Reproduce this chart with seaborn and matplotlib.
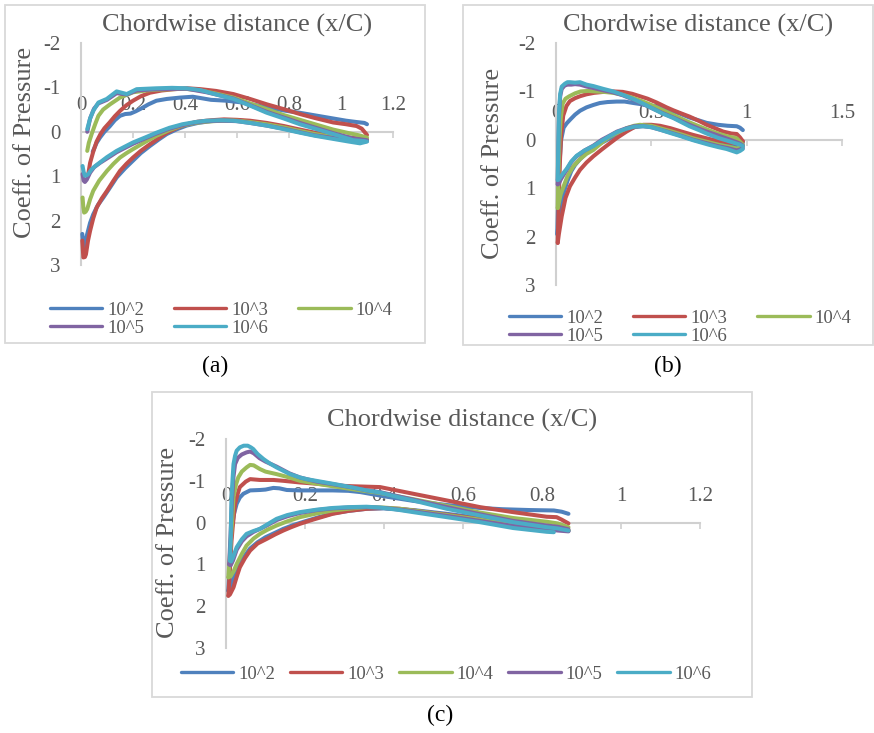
import matplotlib
matplotlib.use("Agg")
import matplotlib.pyplot as plt
from matplotlib.lines import Line2D
from matplotlib.patches import Rectangle
import seaborn as sns
import pandas as pd

# ---------------- data ----------------
RE_LABELS = ["10^2", "10^3", "10^4", "10^5", "10^6"]
COLORS = ["#4F81BD", "#C0504D", "#9BBB59", "#8064A2", "#4BACC6"]
Y_TICKS = [-2, -1, 0, 1, 2, 3]
A_X_TICKS = [0, 0.2, 0.4, 0.6, 0.8, 1, 1.2]
B_X_TICKS = [0, 0.5, 1, 1.5]
C_X_TICKS = [0, 0.2, 0.4, 0.6, 0.8, 1, 1.2]

# panel (a): (x/C, Cp) pairs
a_1e2_upper = [(0.045, 0.45), (0.06, 0.25), (0.073, 0.13), (0.09, 0.0), (0.11, -0.12), (0.13, -0.26), (0.15, -0.36), (0.17, -0.4), (0.19, -0.41), (0.21, -0.46), (0.23, -0.52), (0.26, -0.62), (0.29, -0.70), (0.33, -0.74), (0.38, -0.77), (0.43, -0.79), (0.46, -0.76), (0.50, -0.72), (0.56, -0.70), (0.62, -0.66), (0.70, -0.57), (0.78, -0.48), (0.84, -0.43), (0.90, -0.37), (0.97, -0.30), (1.02, -0.25), (1.06, -0.22), (1.09, -0.20), (1.10, -0.17)]
a_1e3_upper = [(0.028, 0.95), (0.035, 0.7), (0.047, 0.45), (0.06, 0.22), (0.075, 0.05), (0.09, -0.08), (0.11, -0.21), (0.13, -0.35), (0.15, -0.47), (0.175, -0.6), (0.2, -0.7), (0.23, -0.8), (0.265, -0.88), (0.31, -0.93), (0.36, -0.96), (0.41, -0.98), (0.46, -0.96), (0.52, -0.92), (0.586, -0.85), (0.65, -0.74), (0.714, -0.62), (0.78, -0.51), (0.842, -0.40), (0.90, -0.31), (0.97, -0.21), (1.02, -0.17), (1.06, -0.13), (1.08, -0.07), (1.10, 0.07)]
a_1e4_upper = [(0.024, 0.43), (0.03, 0.25), (0.041, 0.05), (0.055, -0.18), (0.067, -0.36), (0.085, -0.5), (0.112, -0.62), (0.15, -0.77), (0.2, -0.89), (0.25, -0.93), (0.29, -0.95), (0.35, -0.96), (0.4, -0.97), (0.46, -0.93), (0.52, -0.86), (0.586, -0.77), (0.65, -0.64), (0.714, -0.51), (0.778, -0.38), (0.842, -0.27), (0.90, -0.17), (0.97, -0.05), (1.03, 0.03), (1.07, 0.08), (1.10, 0.13)]
a_1e5_upper = [(0.024, 0.0), (0.035, -0.3), (0.05, -0.52), (0.067, -0.64), (0.1, -0.72), (0.137, -0.87), (0.176, -0.84), (0.214, -0.93), (0.29, -0.96), (0.406, -0.97), (0.483, -0.89), (0.586, -0.75), (0.714, -0.45), (0.842, -0.2), (0.97, 0.03), (1.047, 0.15), (1.10, 0.19)]
a_1e6_upper = [(0.024, -0.06), (0.035, -0.3), (0.047, -0.47), (0.067, -0.66), (0.099, -0.74), (0.137, -0.91), (0.176, -0.85), (0.214, -0.96), (0.29, -0.98), (0.35, -0.99), (0.406, -0.98), (0.458, -0.94), (0.52, -0.84), (0.586, -0.74), (0.65, -0.59), (0.714, -0.43), (0.78, -0.30), (0.842, -0.17), (0.90, -0.07), (0.97, 0.05), (1.047, 0.19), (1.092, 0.21)]
a_1e2_lower = [(0.005, 2.3), (0.009, 2.6), (0.016, 2.5), (0.024, 2.3), (0.035, 2.05), (0.047, 1.86), (0.065, 1.65), (0.086, 1.48), (0.11, 1.27), (0.137, 1.03), (0.17, 0.82), (0.2, 0.65), (0.23, 0.48), (0.265, 0.32), (0.3, 0.17), (0.33, 0.05), (0.37, -0.06), (0.406, -0.14), (0.45, -0.2), (0.5, -0.24), (0.55, -0.26), (0.6, -0.26), (0.65, -0.23), (0.714, -0.18), (0.78, -0.11), (0.842, -0.03), (0.9, 0.04), (0.97, 0.1), (1.03, 0.15), (1.08, 0.18), (1.10, 0.2)]
a_1e3_lower = [(0.005, 2.45), (0.009, 2.83), (0.015, 2.82), (0.019, 2.76), (0.027, 2.45), (0.035, 2.23), (0.047, 1.95), (0.06, 1.71), (0.08, 1.5), (0.1, 1.33), (0.125, 1.1), (0.15, 0.88), (0.175, 0.72), (0.2, 0.58), (0.23, 0.43), (0.265, 0.28), (0.3, 0.14), (0.33, 0.02), (0.37, -0.09), (0.406, -0.17), (0.45, -0.23), (0.5, -0.26), (0.55, -0.28), (0.6, -0.27), (0.65, -0.25), (0.714, -0.2), (0.78, -0.13), (0.842, -0.05), (0.9, 0.02), (0.97, 0.08), (1.03, 0.13), (1.08, 0.16), (1.10, 0.17)]
a_1e4_lower = [(0.006, 1.48), (0.009, 1.7), (0.012, 1.82), (0.018, 1.8), (0.024, 1.74), (0.035, 1.52), (0.047, 1.33), (0.07, 1.1), (0.1, 0.88), (0.125, 0.72), (0.15, 0.58), (0.175, 0.48), (0.2, 0.39), (0.25, 0.22), (0.29, 0.09), (0.34, -0.04), (0.39, -0.14), (0.44, -0.2), (0.483, -0.23), (0.54, -0.25), (0.6, -0.25), (0.65, -0.22), (0.714, -0.17), (0.78, -0.1), (0.842, -0.02), (0.9, 0.05), (0.97, 0.12), (1.03, 0.16), (1.08, 0.19), (1.10, 0.19)]
a_1e5_lower = [(0.006, 0.95), (0.01, 1.1), (0.015, 1.13), (0.022, 1.08), (0.035, 0.92), (0.05, 0.8), (0.073, 0.7), (0.1, 0.6), (0.137, 0.46), (0.17, 0.36), (0.2, 0.27), (0.25, 0.14), (0.29, 0.04), (0.34, -0.07), (0.39, -0.15), (0.44, -0.21), (0.483, -0.24), (0.54, -0.25), (0.6, -0.24), (0.65, -0.2), (0.714, -0.14), (0.78, -0.07), (0.842, 0.01), (0.9, 0.08), (0.97, 0.14), (1.03, 0.19), (1.073, 0.23), (1.10, 0.21)]
a_1e6_lower = [(0.006, 0.77), (0.01, 0.9), (0.015, 0.99), (0.022, 0.98), (0.028, 0.95), (0.04, 0.85), (0.055, 0.77), (0.073, 0.69), (0.1, 0.57), (0.137, 0.43), (0.17, 0.33), (0.2, 0.24), (0.25, 0.12), (0.29, 0.02), (0.34, -0.09), (0.39, -0.17), (0.44, -0.22), (0.483, -0.25), (0.54, -0.26), (0.586, -0.25), (0.65, -0.2), (0.714, -0.14), (0.78, -0.06), (0.842, 0.02), (0.9, 0.09), (0.97, 0.16), (1.03, 0.22), (1.073, 0.26), (1.10, 0.22)]

# panel (b)
b_1e2_upper = [(0.007, 1.95), (0.012, 1.2), (0.018, 0.5), (0.027, 0.0), (0.04, -0.25), (0.056, -0.34), (0.075, -0.42), (0.1, -0.52), (0.126, -0.6), (0.16, -0.67), (0.196, -0.72), (0.23, -0.76), (0.27, -0.78), (0.318, -0.79), (0.36, -0.79), (0.406, -0.76), (0.44, -0.74), (0.48, -0.71), (0.545, -0.68), (0.6, -0.61), (0.65, -0.54), (0.70, -0.46), (0.75, -0.40), (0.79, -0.35), (0.85, -0.31), (0.9, -0.29), (0.948, -0.28), (0.965, -0.25), (0.98, -0.20)]
b_1e3_upper = [(0.009, 2.13), (0.014, 1.3), (0.02, 0.5), (0.027, -0.1), (0.038, -0.5), (0.055, -0.7), (0.073, -0.8), (0.1, -0.86), (0.126, -0.9), (0.16, -0.94), (0.2, -0.97), (0.25, -0.99), (0.3, -1.0), (0.35, -0.99), (0.4, -0.95), (0.44, -0.9), (0.48, -0.85), (0.528, -0.77), (0.58, -0.67), (0.615, -0.61), (0.66, -0.54), (0.70, -0.48), (0.75, -0.39), (0.79, -0.31), (0.84, -0.23), (0.877, -0.17), (0.92, -0.13), (0.948, -0.12), (0.965, -0.05), (0.98, 0.03)]
b_1e4_upper = [(0.009, 1.41), (0.013, 0.7), (0.018, 0.0), (0.025, -0.45), (0.035, -0.75), (0.05, -0.85), (0.07, -0.9), (0.1, -0.96), (0.13, -1.0), (0.17, -1.01), (0.2, -1.0), (0.25, -0.99), (0.3, -0.97), (0.35, -0.93), (0.4, -0.87), (0.45, -0.8), (0.5, -0.72), (0.55, -0.63), (0.6, -0.54), (0.65, -0.45), (0.7, -0.36), (0.75, -0.28), (0.8, -0.2), (0.85, -0.13), (0.9, -0.07), (0.948, -0.03), (0.965, 0.04), (0.98, 0.1)]
b_1e5_upper = [(0.009, 0.92), (0.012, 0.2), (0.016, -0.5), (0.022, -0.9), (0.03, -1.05), (0.045, -1.12), (0.06, -1.14), (0.08, -1.14), (0.1, -1.15), (0.126, -1.14), (0.16, -1.1), (0.196, -1.07), (0.25, -1.02), (0.3, -0.98), (0.35, -0.92), (0.406, -0.83), (0.45, -0.75), (0.51, -0.64), (0.56, -0.55), (0.615, -0.46), (0.66, -0.38), (0.7, -0.31), (0.75, -0.23), (0.79, -0.17), (0.85, -0.09), (0.9, -0.02), (0.948, 0.05), (0.965, 0.08), (0.98, 0.12)]
b_1e6_upper = [(0.009, 0.83), (0.012, 0.1), (0.016, -0.6), (0.022, -0.95), (0.03, -1.1), (0.047, -1.16), (0.06, -1.19), (0.073, -1.19), (0.1, -1.18), (0.126, -1.19), (0.16, -1.14), (0.196, -1.11), (0.25, -1.05), (0.3, -1.0), (0.35, -0.93), (0.406, -0.84), (0.45, -0.76), (0.51, -0.64), (0.56, -0.54), (0.615, -0.45), (0.66, -0.36), (0.7, -0.28), (0.75, -0.2), (0.79, -0.13), (0.85, -0.04), (0.9, 0.02), (0.948, 0.08), (0.965, 0.1), (0.98, 0.13)]
b_1e2_lower = [(0.007, 1.95), (0.015, 1.7), (0.025, 1.4), (0.04, 1.1), (0.06, 0.85), (0.08, 0.65), (0.1, 0.52), (0.126, 0.4), (0.16, 0.27), (0.196, 0.17), (0.24, 0.06), (0.283, -0.03), (0.32, -0.12), (0.37, -0.2), (0.41, -0.26), (0.458, -0.29), (0.5, -0.29), (0.545, -0.27), (0.6, -0.22), (0.65, -0.16), (0.72, -0.08), (0.8, 0.0), (0.85, 0.04), (0.9, 0.08), (0.948, 0.11), (0.965, 0.09), (0.98, 0.06)]
b_1e3_lower = [(0.009, 2.13), (0.015, 1.95), (0.03, 1.58), (0.05, 1.2), (0.073, 0.96), (0.1, 0.78), (0.126, 0.62), (0.16, 0.47), (0.196, 0.34), (0.24, 0.2), (0.283, 0.07), (0.32, -0.04), (0.37, -0.17), (0.41, -0.26), (0.458, -0.31), (0.5, -0.31), (0.545, -0.29), (0.6, -0.24), (0.65, -0.18), (0.72, -0.1), (0.8, -0.02), (0.85, 0.02), (0.9, 0.05), (0.948, 0.08), (0.965, 0.06), (0.98, 0.03)]
b_1e4_lower = [(0.009, 1.41), (0.015, 1.3), (0.025, 1.12), (0.04, 0.96), (0.06, 0.75), (0.09, 0.55), (0.126, 0.4), (0.16, 0.29), (0.196, 0.21), (0.24, 0.06), (0.28, -0.06), (0.32, -0.14), (0.37, -0.24), (0.41, -0.29), (0.44, -0.31), (0.5, -0.29), (0.545, -0.24), (0.6, -0.18), (0.65, -0.12), (0.72, -0.03), (0.8, 0.05), (0.85, 0.1), (0.9, 0.14), (0.948, 0.18), (0.965, 0.16), (0.98, 0.13)]
b_1e5_lower = [(0.009, 0.92), (0.015, 0.9), (0.025, 0.82), (0.04, 0.72), (0.056, 0.62), (0.08, 0.46), (0.108, 0.34), (0.15, 0.22), (0.196, 0.12), (0.24, 0.0), (0.283, -0.09), (0.32, -0.17), (0.37, -0.24), (0.41, -0.28), (0.458, -0.28), (0.5, -0.26), (0.545, -0.21), (0.6, -0.15), (0.65, -0.09), (0.72, 0.0), (0.8, 0.08), (0.85, 0.13), (0.9, 0.17), (0.948, 0.22), (0.965, 0.2), (0.98, 0.17)]
b_1e6_lower = [(0.009, 0.83), (0.015, 0.82), (0.025, 0.76), (0.04, 0.68), (0.056, 0.6), (0.08, 0.45), (0.108, 0.33), (0.15, 0.22), (0.196, 0.13), (0.24, 0.02), (0.283, -0.08), (0.32, -0.16), (0.37, -0.23), (0.41, -0.27), (0.458, -0.28), (0.5, -0.26), (0.545, -0.21), (0.6, -0.14), (0.65, -0.08), (0.72, 0.01), (0.8, 0.1), (0.85, 0.15), (0.895, 0.19), (0.948, 0.26), (0.965, 0.23), (0.98, 0.19)]

# panel (c)
c_1e2_upper = [(0.006, 1.63), (0.01, 0.9), (0.014, 0.19), (0.02, -0.2), (0.027, -0.45), (0.035, -0.6), (0.044, -0.69), (0.061, -0.77), (0.086, -0.78), (0.1, -0.79), (0.12, -0.83), (0.135, -0.82), (0.154, -0.78), (0.187, -0.77), (0.23, -0.77), (0.27, -0.77), (0.31, -0.76), (0.34, -0.73), (0.4, -0.63), (0.474, -0.52), (0.559, -0.42), (0.643, -0.35), (0.7, -0.32), (0.77, -0.30), (0.83, -0.29), (0.85, -0.26), (0.867, -0.21)]
c_1e3_upper = [(0.006, 1.75), (0.01, 1.1), (0.014, 0.43), (0.018, 0.0), (0.023, -0.45), (0.03, -0.7), (0.035, -0.85), (0.05, -0.98), (0.061, -1.04), (0.086, -1.02), (0.12, -1.02), (0.145, -1.0), (0.187, -0.96), (0.23, -0.93), (0.27, -0.89), (0.32, -0.87), (0.39, -0.85), (0.474, -0.69), (0.559, -0.53), (0.643, -0.37), (0.727, -0.25), (0.812, -0.14), (0.837, -0.13), (0.85, -0.07), (0.867, 0.02)]
c_1e4_upper = [(0.006, 1.31), (0.009, 0.9), (0.012, 0.43), (0.016, -0.1), (0.019, -0.61), (0.025, -0.9), (0.031, -1.08), (0.04, -1.22), (0.052, -1.32), (0.061, -1.38), (0.07, -1.37), (0.086, -1.28), (0.1, -1.22), (0.128, -1.16), (0.16, -1.08), (0.187, -1.0), (0.23, -0.93), (0.27, -0.87), (0.32, -0.8), (0.356, -0.75), (0.39, -0.71), (0.44, -0.62), (0.474, -0.56), (0.559, -0.4), (0.643, -0.24), (0.727, -0.11), (0.812, -0.02), (0.84, 0.02), (0.867, 0.11)]
c_1e5_upper = [(0.008, 1.0), (0.011, 0.4), (0.015, -0.5), (0.019, -1.1), (0.023, -1.4), (0.03, -1.55), (0.04, -1.63), (0.052, -1.68), (0.061, -1.7), (0.07, -1.66), (0.085, -1.54), (0.1, -1.46), (0.128, -1.34), (0.16, -1.18), (0.187, -1.08), (0.23, -0.98), (0.27, -0.92), (0.32, -0.84), (0.356, -0.77), (0.39, -0.73), (0.44, -0.62), (0.474, -0.55), (0.559, -0.37), (0.643, -0.2), (0.727, -0.04), (0.812, 0.07), (0.84, 0.1), (0.867, 0.16)]
c_1e6_upper = [(0.01, 0.91), (0.012, 0.3), (0.014, -0.61), (0.017, -1.1), (0.019, -1.4), (0.023, -1.6), (0.027, -1.72), (0.035, -1.8), (0.045, -1.84), (0.055, -1.84), (0.063, -1.8), (0.069, -1.76), (0.08, -1.64), (0.095, -1.52), (0.11, -1.42), (0.128, -1.32), (0.145, -1.24), (0.162, -1.16), (0.187, -1.08), (0.204, -1.04), (0.24, -0.98), (0.27, -0.93), (0.31, -0.86), (0.356, -0.77), (0.39, -0.72), (0.44, -0.6), (0.474, -0.53), (0.559, -0.33), (0.643, -0.17), (0.727, -0.01), (0.812, 0.11), (0.84, 0.14), (0.867, 0.19)]
c_1e2_lower = [(0.006, 1.63), (0.012, 1.5), (0.02, 1.3), (0.035, 0.98), (0.05, 0.76), (0.061, 0.62), (0.08, 0.47), (0.1, 0.35), (0.125, 0.24), (0.145, 0.15), (0.17, 0.06), (0.2, -0.03), (0.235, -0.13), (0.27, -0.22), (0.31, -0.28), (0.356, -0.33), (0.4, -0.34), (0.44, -0.32), (0.474, -0.3), (0.559, -0.21), (0.643, -0.11), (0.727, 0.01), (0.812, 0.12), (0.84, 0.15), (0.867, 0.2)]
c_1e3_lower = [(0.006, 1.75), (0.01, 1.72), (0.019, 1.55), (0.027, 1.3), (0.035, 1.07), (0.048, 0.85), (0.061, 0.67), (0.08, 0.5), (0.103, 0.39), (0.125, 0.28), (0.145, 0.19), (0.165, 0.11), (0.187, 0.03), (0.22, -0.07), (0.27, -0.21), (0.31, -0.28), (0.356, -0.33), (0.4, -0.35), (0.44, -0.33), (0.474, -0.29), (0.559, -0.19), (0.643, -0.09), (0.727, 0.03), (0.812, 0.13), (0.84, 0.16), (0.867, 0.19)]
c_1e4_lower = [(0.006, 1.31), (0.012, 1.28), (0.02, 1.15), (0.027, 0.99), (0.04, 0.75), (0.052, 0.55), (0.07, 0.38), (0.086, 0.27), (0.105, 0.17), (0.128, 0.07), (0.155, -0.03), (0.187, -0.13), (0.23, -0.22), (0.27, -0.29), (0.31, -0.33), (0.356, -0.37), (0.4, -0.36), (0.44, -0.33), (0.474, -0.29), (0.559, -0.18), (0.643, -0.07), (0.727, 0.05), (0.812, 0.14), (0.84, 0.17), (0.867, 0.18)]
c_1e5_lower = [(0.008, 1.0), (0.012, 1.02), (0.018, 0.9), (0.027, 0.65), (0.04, 0.45), (0.052, 0.33), (0.07, 0.22), (0.086, 0.15), (0.105, 0.06), (0.128, -0.06), (0.155, -0.15), (0.187, -0.23), (0.23, -0.3), (0.27, -0.34), (0.31, -0.36), (0.356, -0.37), (0.4, -0.35), (0.44, -0.31), (0.474, -0.27), (0.559, -0.16), (0.643, -0.04), (0.727, 0.08), (0.812, 0.16), (0.84, 0.19), (0.867, 0.21)]
c_1e6_lower = [(0.01, 0.91), (0.013, 0.93), (0.018, 0.82), (0.027, 0.59), (0.04, 0.4), (0.052, 0.27), (0.07, 0.2), (0.086, 0.15), (0.105, 0.04), (0.128, -0.09), (0.155, -0.18), (0.187, -0.25), (0.23, -0.31), (0.27, -0.35), (0.31, -0.37), (0.356, -0.38), (0.39, -0.36), (0.44, -0.3), (0.474, -0.25), (0.559, -0.13), (0.643, -0.01), (0.727, 0.13), (0.812, 0.22), (0.83, 0.23)]

PANEL_A = [(RE_LABELS[0], a_1e2_upper, a_1e2_lower), (RE_LABELS[1], a_1e3_upper, a_1e3_lower),
           (RE_LABELS[2], a_1e4_upper, a_1e4_lower), (RE_LABELS[3], a_1e5_upper, a_1e5_lower),
           (RE_LABELS[4], a_1e6_upper, a_1e6_lower)]
PANEL_B = [(RE_LABELS[0], b_1e2_upper, b_1e2_lower), (RE_LABELS[1], b_1e3_upper, b_1e3_lower),
           (RE_LABELS[2], b_1e4_upper, b_1e4_lower), (RE_LABELS[3], b_1e5_upper, b_1e5_lower),
           (RE_LABELS[4], b_1e6_upper, b_1e6_lower)]
PANEL_C = [(RE_LABELS[0], c_1e2_upper, c_1e2_lower), (RE_LABELS[1], c_1e3_upper, c_1e3_lower),
           (RE_LABELS[2], c_1e4_upper, c_1e4_lower), (RE_LABELS[3], c_1e5_upper, c_1e5_lower),
           (RE_LABELS[4], c_1e6_upper, c_1e6_lower)]

# ---------------- style ----------------
sns.set_style("white")
plt.rcParams["font.family"] = ["Liberation Serif", "DejaVu Serif"]
plt.rcParams["axes.unicode_minus"] = False

W, H = 874, 733
GRAY_TXT = "#595959"
AXIS_COL = "#D0D0D0"
BOX_COL = "#D9D9D9"

fig = plt.figure(figsize=(W / 100, H / 100), dpi=100)
fig.patch.set_facecolor("white")


def frac_rect(x0, y0, x1, y1):
    return [x0 / W, 1 - y1 / H, (x1 - x0) / W, (y1 - y0) / H]


def to_frame(series):
    rows = []
    for label, up, lo in series:
        for surf, pts in (("upper", up), ("lower", lo)):
            for x, c in pts:
                rows.append({"x": x, "cp": c, "Re": label, "surface": surf})
    return pd.DataFrame(rows)


def draw_panel(series, axes_px, box_px, xmax, xticks, title_xy, ylab_xy,
               legend_xy, ncol, caption, caption_xy):
    x0, y0, x1, y1 = box_px
    fig.add_artist(Rectangle((x0 / W, 1 - y1 / H), (x1 - x0) / W, (y1 - y0) / H,
                             transform=fig.transFigure, fill=False,
                             ec=BOX_COL, lw=1.3))
    ax = fig.add_axes(frac_rect(*axes_px))
    ax.patch.set_alpha(0)
    df = to_frame(series)
    sns.lineplot(data=df, x="x", y="cp", hue="Re", hue_order=RE_LABELS,
                 units="surface", estimator=None, sort=False,
                 palette=COLORS, linewidth=2.9, legend=False, ax=ax)
    for ln in ax.lines:
        ln.set_solid_capstyle("round")
        ln.set_solid_joinstyle("round")
        ln.set_zorder(3)
        ln.set_clip_on(False)
    ax.set_xlim(0, xmax)
    ax.set_ylim(3, -2)
    ax.set_xticks(xticks)
    ax.set_xticklabels([f"{t:g}" for t in xticks])
    ax.set_yticks(Y_TICKS)
    ax.set_yticklabels([str(t) for t in Y_TICKS])
    ax.set_xlabel("")
    ax.set_ylabel("")
    for s in ("right", "bottom"):
        ax.spines[s].set_visible(False)
    ax.spines["top"].set_position(("data", 0))
    for s in ("top", "left"):
        ax.spines[s].set_color(AXIS_COL)
        ax.spines[s].set_linewidth(1.5)
    ax.xaxis.set_ticks_position("top")
    ax.tick_params(axis="x", direction="in", length=4, width=1.2,
                   color=AXIS_COL, pad=12, labelsize=15, labelcolor=GRAY_TXT)
    ax.tick_params(axis="y", length=0, pad=15, labelsize=15,
                   labelcolor=GRAY_TXT)

    fig.text(title_xy[0] / W, 1 - title_xy[1] / H, "Chordwise distance (x/C)",
             ha="center", va="center", fontsize=19, color=GRAY_TXT)
    fig.text(ylab_xy[0] / W, 1 - ylab_xy[1] / H, "Coeff. of Pressure",
             ha="center", va="center", rotation=90, fontsize=19, color=GRAY_TXT)

    handles = [Line2D([], [], color=c, lw=2.4, solid_capstyle="round")
               for c in COLORS]
    if ncol == 3:
        order = [0, 3, 1, 4, 2]
    else:
        order = [0, 1, 2, 3, 4]
    ax.legend([handles[i] for i in order], [RE_LABELS[i] for i in order],
              loc="center", bbox_to_anchor=(legend_xy[0] / W, 1 - legend_xy[1] / H),
              bbox_transform=fig.transFigure, ncol=ncol, frameon=False,
              fontsize=13.5, labelcolor=GRAY_TXT, handlelength=2.8,
              handletextpad=0.25, columnspacing=1.6 if ncol == 3 else 0.8,
              labelspacing=0.05, borderpad=0)
    fig.text(caption_xy[0] / W, 1 - caption_xy[1] / H, caption,
             ha="center", va="center", fontsize=17, color="black")
    return ax


draw_panel(PANEL_A, (81, 43, 393, 265), (5, 5, 425, 343), 1.2, A_X_TICKS,
           (237, 25), (25, 142), (221, 319), 3, "(a)", (215, 366))
draw_panel(PANEL_B, (556, 43, 842, 285), (463, 5, 873, 345), 1.5, B_X_TICKS,
           (698, 25), (493, 163), (680, 327), 3, "(b)", (668, 366))
draw_panel(PANEL_C, (226, 439, 700, 648), (152, 392, 752, 697), 1.2, C_X_TICKS,
           (462, 420), (168, 542), (446, 674), 5, "(c)", (440, 715))

fig.savefig("out.png", dpi=100, facecolor="white")
